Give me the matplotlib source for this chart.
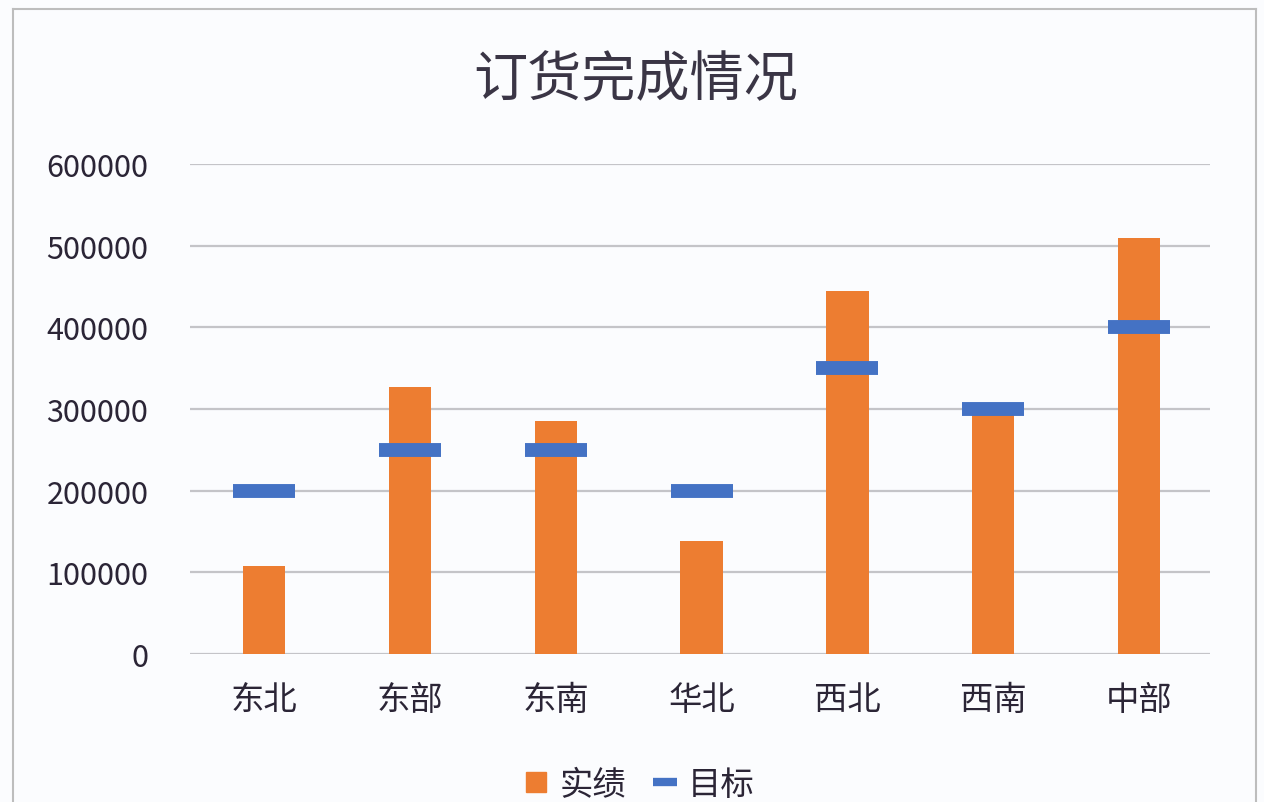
import matplotlib
matplotlib.use("Agg")
import matplotlib.pyplot as plt
from matplotlib.lines import Line2D
from matplotlib.markers import MarkerStyle
import numpy as np

plt.rcParams['font.family'] = ['Noto Sans CJK SC', 'DejaVu Sans']

# ----------------------------
# DATA
# ----------------------------
regions = ["东北", "东部", "东南", "华北", "西北", "西南", "中部"]
actual = [108000, 327000, 285000, 138000, 445000, 295000, 510000]
target = [200000, 250000, 250000, 200000, 350000, 300000, 400000]
y_ticks = [0, 100000, 200000, 300000, 400000, 500000, 600000]

ORANGE = "#ED7D31"
BLUE = "#4472C4"
TEXT = "#2b2536"
BG = "#fbfcfe"

fig = plt.figure(figsize=(12.64, 8.03), dpi=100, facecolor=BG)
ax = fig.add_axes([0.1503, 0.1843, 0.807, 0.6102], facecolor=BG)

x = np.arange(len(regions))

ax.bar(x, actual, width=0.29, color=ORANGE, zorder=2)

dash = MarkerStyle("_", capstyle="butt")
ax.plot(x, target, linestyle="none", marker=dash, markersize=44,
        markeredgewidth=10, color=BLUE, zorder=3)

ax.set_xlim(-0.507, 6.486)
ax.set_ylim(0, 600000)
ax.set_yticks(y_ticks)
ax.set_yticklabels([str(v) for v in y_ticks])
ax.set_xticks(x)
ax.set_xticklabels(regions)

ax.grid(axis="y", color="#c4c4c8", linewidth=1.6, zorder=0)
for s in ax.spines.values():
    s.set_visible(False)
ax.tick_params(axis="y", length=0, pad=30, labelsize=22, labelcolor=TEXT)
ax.tick_params(axis="x", length=0, pad=20, labelsize=24, labelcolor=TEXT)

fig.text(0.503, 0.9, "订货完成情况", ha="center", va="center",
         fontsize=39, fontweight="light", color="#3a3545")

# legend
handles = [
    Line2D([], [], linestyle="none", marker="s", markersize=14,
           markerfacecolor=ORANGE, markeredgecolor=ORANGE),
    Line2D([], [], linestyle="none", marker=dash, markersize=17,
           markeredgewidth=6, color=BLUE),
]
fig.legend(handles, ["实绩", "目标"], loc="center",
           bbox_to_anchor=(0.506, 0.022), ncol=2, frameon=False,
           fontsize=24, labelcolor=TEXT, handlelength=0.7,
           handletextpad=0.35, columnspacing=0.8)

# spreadsheet cell border around the chart
fig.add_artist(Line2D([13 / 1264, 13 / 1264], [0, 1 - 10 / 803],
                      transform=fig.transFigure, color="#bdbdbd", lw=1.5))
fig.add_artist(Line2D([13 / 1264, 1256 / 1264], [1 - 10 / 803, 1 - 10 / 803],
                      transform=fig.transFigure, color="#bdbdbd", lw=1.5))
fig.add_artist(Line2D([1256 / 1264, 1256 / 1264], [0, 1 - 10 / 803],
                      transform=fig.transFigure, color="#bdbdbd", lw=1.5))

fig.savefig("out.png", dpi=100, facecolor=BG)
